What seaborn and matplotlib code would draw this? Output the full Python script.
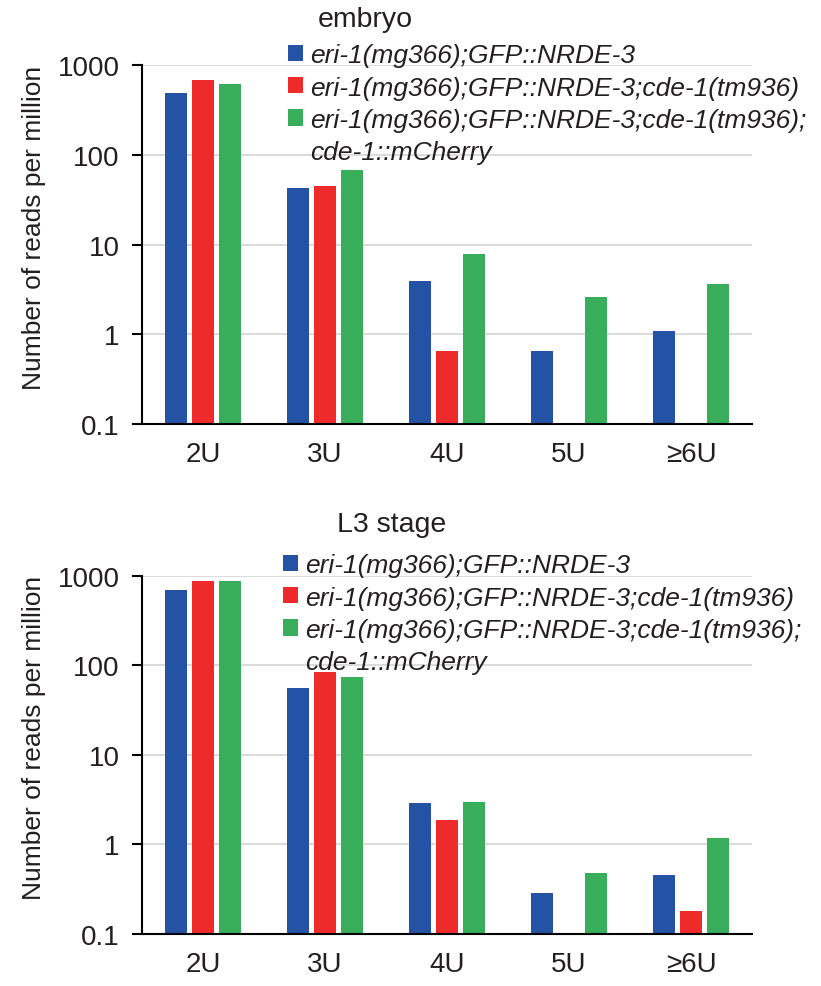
import matplotlib
matplotlib.use("Agg")
import matplotlib.pyplot as plt
import seaborn as sns
import numpy as np
import pandas as pd
from matplotlib.patches import Patch

categories = ["2U", "3U", "4U", "5U", "≥6U"]
strains = ["eri-1(mg366);GFP::NRDE-3",
           "eri-1(mg366);GFP::NRDE-3;cde-1(tm936)",
           "eri-1(mg366);GFP::NRDE-3;cde-1(tm936);"]
strain_extra = "cde-1::mCherry"

embryo_nrde3 = [490, 43, 3.9, 0.65, 1.08]
embryo_cde1 = [680, 44.5, 0.65, np.nan, np.nan]
embryo_rescue = [615, 68, 7.9, 2.6, 3.6]

l3_nrde3 = [700, 56, 2.9, 0.29, 0.46]
l3_cde1 = [880, 84, 1.88, np.nan, 0.18]
l3_rescue = [880, 74, 2.98, 0.48, 1.18]

yticks = [0.1, 1, 10, 100, 1000]
ytick_labels = ["0.1", "1", "10", "100", "1000"]
colors = ["#2452a4", "#ee2a2b", "#38ae5b"]
txt = "#231f20"


def make_df(a, b, c):
    rows = []
    for s, vals in zip(strains, [a, b, c]):
        for cat, v in zip(categories, vals):
            rows.append({"cat": cat, "strain": s, "value": v})
    return pd.DataFrame(rows)


sns.set_style("white")
plt.rcParams['font.family'] = ['Liberation Sans', 'DejaVu Sans']
plt.rcParams['text.color'] = txt

fig = plt.figure(figsize=(8.21, 9.87), dpi=100)
ax1 = fig.add_axes([0.173, 0.5694, 0.743, 0.3637])
ax2 = fig.add_axes([0.173, 0.0527, 0.743, 0.3627])

panels = [
    (ax1, make_df(embryo_nrde3, embryo_cde1, embryo_rescue), "embryo", 0.288, 1.108, 0.239, 1.060),
    (ax2, make_df(l3_nrde3, l3_cde1, l3_rescue), "L3 stage", 0.319, 1.125, 0.231, 1.063),
]

for ax, df, title, tx, ty, lx, ly in panels:
    sns.barplot(data=df, x="cat", y="value", hue="strain", order=categories,
                hue_order=strains, palette=colors, width=0.66, gap=0.18,
                saturation=1, linewidth=0, errorbar=None, legend=False, ax=ax)
    ax.set_yscale("log")
    ax.set_ylim(0.1, 1000)
    ax.set_xlim(-0.5, 4.5)
    ax.set_yticks(yticks)
    ax.set_yticklabels(ytick_labels)
    ax.minorticks_off()
    ax.yaxis.grid(True, color="#d4d4d4", linewidth=1.2)
    ax.set_axisbelow(True)

    ax.set_xticks(np.arange(-0.5, 5, 1))
    ax.set_xticklabels([])
    ax.set_xticks(range(len(categories)), minor=True)
    ax.set_xticklabels(categories, minor=True)
    ax.tick_params(axis="x", which="major", length=10, width=1.5, color="black")
    ax.tick_params(axis="x", which="minor", length=0, pad=12, labelsize=20, labelcolor=txt)
    ax.tick_params(axis="y", length=7.2, width=1.5, color="black", pad=9,
                   labelsize=20, labelcolor=txt, left=True)

    sns.despine(ax=ax)
    for sp in ["left", "bottom"]:
        ax.spines[sp].set_color("black")
        ax.spines[sp].set_linewidth(1.5)

    ax.set_xlabel("")
    ax.set_ylabel("Number of reads per million", fontsize=19, color=txt)
    ax.yaxis.set_label_coords(-0.157, 0.55)

    ax.text(tx, ty, title, transform=ax.transAxes, fontsize=20.5, color=txt,
            ha="left", va="baseline")

    handles = [Patch(facecolor=c, edgecolor="none") for c in colors]
    handles.append(Patch(facecolor="none", edgecolor="none"))
    ax.legend(handles, strains + [strain_extra], loc="upper left",
              bbox_to_anchor=(lx, ly), frameon=False, labelcolor=txt,
              prop={"style": "italic", "size": 19},
              handlelength=0.57, handleheight=0.57, handletextpad=0.27,
              labelspacing=0.31, borderpad=0, borderaxespad=0)

fig.savefig("out.png", dpi=100)
